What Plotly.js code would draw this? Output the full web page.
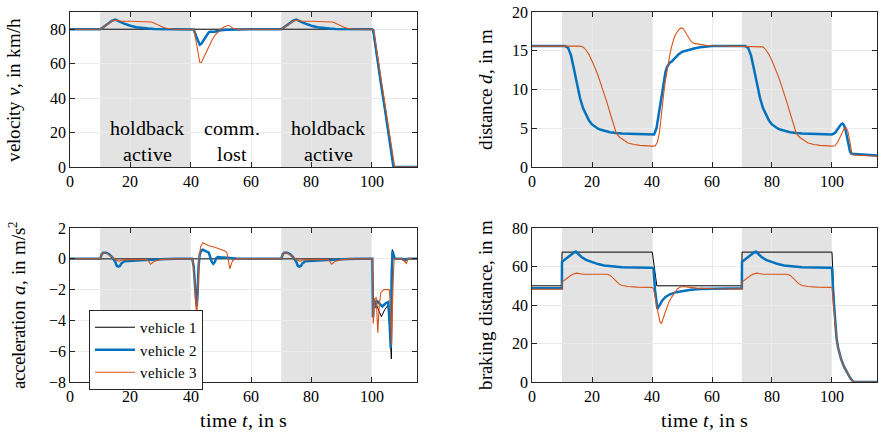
<!DOCTYPE html>
<html><head><meta charset="utf-8">
<script src="https://cdn.plot.ly/plotly-3.0.1.min.js"></script>
<style>
@font-face{font-family:'CMSerif';src:local('Liberation Serif'),local('LiberationSerif'),local('LiberationSerif-Regular');font-style:normal;font-weight:400;}
@font-face{font-family:'CMSerif';src:local('Liberation Serif Italic'),local('LiberationSerif-Italic');font-style:italic;font-weight:400;}
html,body{margin:0;padding:0;background:#fff;font-family:'CMSerif','Liberation Serif',serif;}
#chart{width:879px;height:435px;}
svg text{font-family:'CMSerif','Liberation Serif',serif !important;}
</style>
</head><body><div id="chart"></div>
<script>
// ---------- data ----------
const seriesNames = ["vehicle 1", "vehicle 2", "vehicle 3"];
const shadedStart = [10, 70];
const shadedEnd = [40, 100];
const regionLabels = ["holdback<br>active", "comm.<br>lost", "holdback<br>active"];
const regionLabelT = [25.5, 53.6, 85.4];
const xTicks = [0, 20, 40, 60, 80, 100];

// velocity (km/h)
const tVel1 = [0, 100.3, 101.5, 103, 104.5, 106, 107.2, 115];
const vel1 = [80, 80, 66, 49, 32, 15, 0, 0];
const tVel2 = [0,10,11,12,13,14,15,16,17,18,19,20,22,24,26,28,30,35,40,41,41.8,42.5,43,43.5,44,44.5,45,45.5,46,46.5,47,47.5,48,49,50,52,55,60,
  70,71,72,73,74,75,76,77,78,79,80,82,84,86,88,90,95,100,100.5,101.5,103,104.5,106,107.2,115];
const vel2 = [80,80,81.2,82.5,83.8,85,85.6,85,84,83.2,82.5,82,81.2,80.7,80.4,80.2,80.1,80,80,79.8,76,72.5,71,71.5,73,74.5,76,77.2,78.2,78.6,78.5,78.3,78.5,79,79.4,79.7,79.9,80,
  80,81.2,82.5,83.8,85,85.6,85,84,83.2,82.5,82,81.2,80.7,80.4,80.2,80.1,80,80,79.5,66,49,32,15,0,0];
const tVel3 = [0,10,11,12,13,14,15,16,17,20,24,26,27,28,29,30,31,32,33,34,36,40,41,41.8,42.5,43,43.5,44,45,46,47,48,49,50,51,52,52.5,53,54,55,56,60,
  70,71,72,73,74,75,76,77,80,84,86,87,88,89,90,91,92,93,94,96,100,100.6,101.8,103.3,104.8,106.3,107.6,115];
const vel3 = [80,80,81,82.3,83.6,84.8,85.3,84.8,84.6,84.6,84.6,84.5,84.2,83.5,82.5,81.7,81,80.6,80.3,80.1,80,80,79.8,73,65,60.8,60.6,62.5,66,70,73.5,76.5,78.5,80,81.3,82.2,82.3,81.8,80.6,80.2,80,80,
  80,81,82.3,83.6,84.8,85.3,84.8,84.6,84.6,84.6,84.5,84.2,83.5,82.5,81.7,81,80.6,80.3,80.1,80,80,79.5,66,49,32,15,0,0];

// distance (m)
const tDist2 = [0,10,11,12,13,14,15,16,17,18,19,20,21,22,23,24,26,28,30,35,40,40.7,41.5,42,42.5,43,43.5,44,44.5,45,45.5,46,46.5,47,48,49,50,52,54,56,58,60,
  70,71,72,73,74,75,76,77,78,79,80,81,82,83,84,86,88,90,95,100,101,102,103,103.5,104,104.5,105,105.5,106,106.5,110,113,115];
const dist2 = [15.6,15.6,15.6,15.4,14.4,12.6,10.6,8.9,7.6,6.7,6.0,5.5,5.2,4.95,4.8,4.7,4.5,4.4,4.33,4.25,4.2,4.2,5.0,6.2,7.6,9.0,10.3,11.5,12.3,12.9,13.3,13.5,13.6,13.8,14.3,14.6,14.85,15.1,15.3,15.45,15.55,15.6,
  15.6,15.6,15.4,14.4,12.6,10.6,8.9,7.6,6.7,6.0,5.5,5.2,4.95,4.8,4.7,4.5,4.4,4.33,4.25,4.2,4.4,5.0,5.5,5.6,5.4,4.8,3.8,2.8,2.0,1.7,1.65,1.6,1.5];
const tDist3 = [0,10,16,17,18,19,20,21,22,23,24,25,26,27,27.5,28,29,30,31,32,34,36,40,41,41.8,42.5,43,43.5,44,44.5,45,45.5,46,46.5,47,47.5,48,48.5,49,49.5,50,50.5,51,52,53,54,56,58,60,
  70,76,77,78,79,80,81,82,83,84,85,86,87,87.5,88,89,90,91,92,94,96,100,101,102,103,104,104.7,105.3,106,106.5,107,110,113,115];
const dist3 = [15.6,15.6,15.6,15.5,15.1,14.5,13.7,12.8,11.8,10.7,9.6,8.3,7.0,5.7,5.0,4.5,3.9,3.6,3.3,3.1,2.9,2.8,2.7,2.7,3.2,4.5,6.3,8.3,9.8,11.2,12.5,13.6,14.6,15.5,16.2,16.8,17.2,17.5,17.75,17.9,17.95,17.8,17.5,16.8,16.2,15.95,15.8,15.7,15.65,
  15.6,15.6,15.5,15.1,14.5,13.7,12.8,11.8,10.7,9.6,8.3,7.0,5.7,5.0,4.5,3.9,3.6,3.3,3.1,2.9,2.8,2.7,2.75,3.3,4.2,4.9,5.1,4.6,3.2,2.0,1.55,1.5,1.45,1.4];

// acceleration (m/s^2)
const tAcc1 = [0,100.2,100.4,101,101.6,102.4,103.2,104.3,105.4,106,106.5,106.8,107.2,107.7,115];
const acc1 = [0,0,-2.4,-2.8,-3.0,-3.4,-3.76,-3.3,-3.0,-4.5,-6.5,0.6,0.3,0,0];
const tAcc2 = [0,10,10.5,11,12,13,14,15,15.5,16,16.6,17,18,20,22,25,28,30,35,40,40.5,41,41.4,41.7,42,42.3,42.6,43,43.5,44,45,46,46.5,47,47.5,48,48.5,49,50,51,53,55,60,
  70,70.5,71,72,73,74,75,75.5,76,76.6,77,78,80,82,85,88,90,95,100,100.2,100.4,100.7,101.2,101.7,102.5,103.5,104.5,105.5,106,106.3,106.6,106.9,107.3,107.7,110,111,112,115];
const acc2 = [0,0,0.3,0.4,0.4,0.3,0.1,-0.2,-0.45,-0.5,-0.45,-0.3,-0.15,-0.12,-0.1,-0.08,-0.05,-0.02,0,0,0,-0.5,-1.9,-2.5,-3.1,-2.2,-0.5,0.3,0.55,0.6,0.5,0.4,0.1,-0.2,-0.32,-0.2,0.05,0.12,0.1,0.08,0.05,0.03,0,
  0,0.3,0.4,0.4,0.3,0.1,-0.2,-0.45,-0.5,-0.45,-0.3,-0.15,-0.12,-0.1,-0.08,-0.05,-0.02,0,0,0,-3.8,-2.6,-3.2,-2.7,-2.9,-3.1,-2.9,-2.8,-4.5,-5.8,-1.0,0.5,0.2,0,0,-0.1,0,0];
const tAcc3 = [0,10,10.5,11,12,13,14.5,15.5,16.5,17,20,25.5,26.2,26.7,27.3,28,30,33,40,40.5,41,41.5,42,42.4,42.8,43.3,44,45,46,48,50,51.5,52,52.5,53,53.5,54,55,60,
  70,70.5,71,72,73,74.5,75.5,76.5,77,80,85.5,86.2,86.7,87.3,88,90,93,100,100.2,100.5,101,101.5,102,102.5,103,104,105,105.8,106.2,106.6,107,107.4,110,111.5,112,115];
const acc3 = [0,0,0.3,0.4,0.38,0.25,0,-0.1,-0.15,-0.08,-0.05,-0.05,-0.2,-0.35,-0.25,-0.15,-0.05,0,0,0,-0.6,-2.0,-3.8,-2.0,0,0.8,1.05,0.95,0.85,0.75,0.62,0.5,0.4,-0.2,-0.65,-0.3,-0.1,0,0,
  0,0.3,0.4,0.38,0.25,0,-0.1,-0.15,-0.08,-0.05,-0.05,-0.2,-0.35,-0.25,-0.15,-0.05,0,0,0,-4.2,-2.6,-2.5,-4.8,-3.0,-2.2,-2.0,-2.0,-2.0,-3.0,-5.6,-2.0,0,0,-0.3,0,0];

// braking distance (m)
const tBrk1 = [0,9.95,10,40.1,41.6,69.95,70,100,100.5,101,101.5,102,103,104,105,106,107,107.5,115];
const brk1 = [50,50,67.5,67.5,50,50,67.5,67.5,48,31,23,18,12,8,5,2.3,0.3,0,0];
const tBrk2 = [0,9.95,10,11,12,13,14,14.6,15.5,16.5,18,20,22,24,27,30,35,40,40.5,41,41.8,42.5,43.5,44.5,46,48,50,53,56,60,65,69.95,
  70,71,72,73,74,74.6,75.5,76.5,78,80,82,84,87,90,95,100,100.5,101,101.5,102,103,104,105,106,107,107.5,115];
const brk2 = [48.7,48.7,62.5,63.8,65,66.2,67.3,67.8,66.5,65,63.5,62.2,61.3,60.6,60,59.7,59.5,59.4,59,48,38,40,42.5,44.2,45.6,46.7,47.3,47.9,48.3,48.5,48.6,48.7,
  62.5,63.8,65,66.2,67.3,67.8,66.5,65,63.5,62.2,61.3,60.6,60,59.7,59.5,59.4,44,30,23,18,12,8,5,2.3,0.3,0,0];
const tBrk3 = [0,9.95,10,11,12,13,14,15,16,17,20,25,26,27,28,29,30,32,35,40,40.5,41,42,42.7,43.2,43.7,44.5,45.5,46.5,47.5,48.5,49.5,50.5,52,55,60,69.95,
  70,71,72,73,74,75,76,77,80,85,86,87,88,89,90,92,95,100,100.5,101,101.5,102,103,104,105,106,107,107.5,115];
const brk3 = [48.2,48.2,52,53.3,54.5,55.5,56.2,56.6,56.3,56,56,56,55.5,54,52.3,51,50.2,49.6,49.3,49.2,48.5,44,36,31,30.5,33,37,41,44,46.5,48.5,49.4,49.6,49.3,48.8,48.5,48.3,
  52,53.3,54.5,55.5,56.2,56.6,56.3,56,56,56,55.5,54,52.3,51,50.2,49.6,49.3,49.2,40,29,23,18,12,8,5,2.3,0.3,0,0];

// ---------- styling ----------
var colors = ["#000000", "#0072BD", "#D95319"];
var widths = [1, 2.5, 1.1];
var SERIF = "CMSerif, 'Liberation Serif', serif";

function mkFont(sz) { return {family: SERIF, size: sz, color: "#000"}; }

function tr(x, y, i, xa, ya, show) {
  return {x: x, y: y, type: "scatter", mode: "lines", name: seriesNames[i],
    line: {color: colors[i], width: widths[i]}, xaxis: xa, yaxis: ya,
    showlegend: !!show, legendgroup: "g" + i, hoverinfo: "skip"};
}

var traces = [
  tr(tVel1, vel1, 0, "x", "y"), tr(tVel2, vel2, 1, "x", "y"), tr(tVel3, vel3, 2, "x", "y"),
  tr(tDist2, dist2, 1, "x2", "y2"), tr(tDist3, dist3, 2, "x2", "y2"),
  tr(tAcc1, acc1, 0, "x3", "y3", true), tr(tAcc2, acc2, 1, "x3", "y3", true), tr(tAcc3, acc3, 2, "x3", "y3", true),
  tr(tBrk1, brk1, 0, "x4", "y4"), tr(tBrk2, brk2, 1, "x4", "y4"), tr(tBrk3, brk3, 2, "x4", "y4")
];

function xax(dom, anchor, title) {
  var a = {domain: dom, anchor: anchor, range: [0, 115], tickvals: xTicks,
    showline: true, mirror: "allticks", linecolor: "#262626", linewidth: 1,
    ticks: "inside", ticklen: 5, tickcolor: "#262626",
    showgrid: true, gridcolor: "#ebebeb", gridwidth: 1, zeroline: false,
    tickfont: mkFont(16), fixedrange: true};
  if (title) a.title = {text: title, font: mkFont(20), standoff: 8};
  return a;
}
function yax(dom, anchor, range, dtick, title, standoff) {
  return {domain: dom, anchor: anchor, range: range, dtick: dtick,
    showline: true, mirror: "allticks", linecolor: "#262626", linewidth: 1,
    ticks: "inside", ticklen: 5, tickcolor: "#262626",
    showgrid: true, gridcolor: "#ebebeb", gridwidth: 1, zeroline: false,
    tickfont: mkFont(16), fixedrange: true,
    title: {text: title, font: mkFont(19), standoff: standoff}};
}

var shapes = [];
["x", "x2", "x3", "x4"].forEach(function (xa, k) {
  var ya = ["y", "y2", "y3", "y4"][k];
  for (var j = 0; j < shadedStart.length; j++) {
    shapes.push({type: "rect", xref: xa, yref: ya + " domain", x0: shadedStart[j], x1: shadedEnd[j],
      y0: 0, y1: 1, fillcolor: "#e3e3e3", line: {width: 0}, layer: "below"});
  }
});

var annotations = regionLabels.map(function (txt, i) {
  return {x: regionLabelT[i], y: 15, xref: "x", yref: "y", text: txt, showarrow: false,
    font: mkFont(20), align: "center"};
});

var layout = {
  width: 879, height: 435,
  font: mkFont(16),
  margin: {l: 70, r: 2, t: 12, b: 53},
  paper_bgcolor: "#fff", plot_bgcolor: "#fff",
  showlegend: true,
  legend: {x: 0.0235, y: 0.1946, xanchor: "left", yanchor: "top", bgcolor: "#fff",
    bordercolor: "#262626", borderwidth: 1, font: mkFont(15),
    tracegroupgap: 0, itemwidth: 40},
  xaxis: xax([0, 0.43], "y"),
  yaxis: yax([0.581, 1], "x", [0, 90], 20, "velocity <i>v</i>, in km/h", 24),
  xaxis2: xax([0.5725, 1], "y2"),
  yaxis2: yax([0.581, 1], "x2", [0, 20], 5, "distance <i>d</i>, in m", 14),
  xaxis3: xax([0, 0.43], "y3", "time <i>t</i>, in s"),
  yaxis3: yax([0, 0.416], "x3", [-8, 2], 2, "acceleration <i>a</i>, in m/s<sup>2</sup>", 18),
  xaxis4: xax([0.5725, 1], "y4", "time <i>t</i>, in s"),
  yaxis4: yax([0, 0.416], "x4", [0, 80], 20, "braking distance, in m", 14),
  shapes: shapes,
  annotations: annotations
};

Plotly.newPlot("chart", traces, layout, {displayModeBar: false});
if (document.fonts && document.fonts.load) {
  Promise.all([document.fonts.load("16px CMSerif"), document.fonts.load("italic 16px CMSerif")])
    .then(function () { Plotly.relayout("chart", {"font.size": 16}); })
    .catch(function () {});
}
</script>
</body></html>
